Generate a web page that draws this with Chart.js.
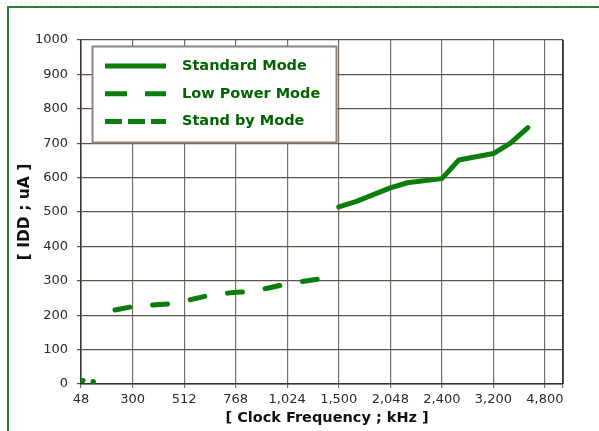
<!DOCTYPE html>
<html>
<head>
<meta charset="utf-8">
<script src="https://cdn.jsdelivr.net/npm/chart.js@4.4.1/dist/chart.umd.min.js"></script>
<style>
  html, body { margin: 0; padding: 0; background: #fff; }
  #wrap { width: 599px; height: 431px; position: relative; }
</style>
</head>
<body>
<div id="wrap"><canvas id="myChart" width="599" height="431"></canvas></div>
<script>
// x positions are slot indices on the evenly spaced frequency axis
const freqLabels = ['48', '300', '512', '768', '1,024', '1,500', '2,048', '2,400', '3,200', '4,800'];
const seriesNames = ['Standard Mode', 'Low Power Mode', 'Stand by Mode'];

const standardX = [5, 5.33, 6, 6.33, 7, 7.33, 8, 8.33, 8.67];
const standardY = [515, 530, 570, 585, 597, 651, 670, 700, 745];

const lowPowerX = [0.66, 1, 1.8, 2.5, 3, 3.3, 4, 4.7];
const lowPowerY = [215, 225, 234, 258, 267, 268, 291, 307];

const standbyX = [0.03, 0.3];
const standbyY = [10, 6];

const yTicks = [0, 100, 200, 300, 400, 500, 600, 700, 800, 900, 1000];

const green = '#0a7d0a';
const textGreen = '#006400';

function toPoints(xs, ys) {
    return xs.map((x, i) => ({ x: x, y: ys[i] }));
}

const legendDash = [[], [22, 18], [17, 6]];

const frameAndLegend = {
    id: 'frameAndLegend',
    beforeDraw(chart) {
        const c = chart.ctx;
        c.save();
        c.fillStyle = '#fff';
        c.fillRect(0, 0, chart.width, chart.height);
        c.strokeStyle = '#e4e4e4';
        c.setLineDash([2, 3]);
        c.lineWidth = 1;
        c.beginPath();
        c.moveTo(0, 2.5);
        c.lineTo(chart.width, 2.5);
        c.stroke();
        c.setLineDash([]);
        c.strokeStyle = '#2e7d2e';
        c.lineWidth = 2;
        c.strokeRect(8, 7, chart.width + 20, chart.height + 20);
        c.restore();
    },
    afterDatasetsDraw(chart) {
        const c = chart.ctx;
        const area = chart.chartArea;
        c.save();
        // right border of the plot
        c.strokeStyle = '#2b2420';
        c.lineWidth = 1.5;
        c.beginPath();
        c.moveTo(area.right, area.top);
        c.lineTo(area.right, area.bottom);
        c.stroke();

        // legend box
        const bx = 92.5, by = 46.5, bw = 244, bh = 96;
        c.fillStyle = '#fff';
        c.fillRect(bx, by, bw, bh);
        c.strokeStyle = '#8a837e';
        c.lineWidth = 2;
        c.strokeRect(bx, by, bw, bh);

        c.font = 'bold 14.5px "DejaVu Sans"';
        c.textBaseline = 'middle';
        c.textAlign = 'left';
        chart.data.datasets.forEach((ds, i) => {
            const y = 66 + i * 27.8;
            c.strokeStyle = green;
            c.lineWidth = 5;
            c.lineCap = 'butt';
            c.setLineDash(legendDash[i]);
            c.beginPath();
            c.moveTo(105, y);
            c.lineTo(166, y);
            c.stroke();
            c.setLineDash([]);
            c.fillStyle = textGreen;
            c.fillText(ds.label, 182, y);
        });
        c.restore();
    }
};

const ctx = document.getElementById('myChart');

const chart = new Chart(ctx, {
    type: 'line',
    data: {
        datasets: [{
            label: seriesNames[0],
            data: toPoints(standardX, standardY),
            borderColor: green,
            borderWidth: 5,
            borderCapStyle: 'round',
            borderJoinStyle: 'round',
            pointRadius: 0,
            clip: false
        }, {
            label: seriesNames[1],
            data: toPoints(lowPowerX, lowPowerY),
            borderColor: green,
            borderWidth: 5,
            borderDash: [15, 23],
            borderCapStyle: 'round',
            pointRadius: 0,
            clip: false
        }, {
            label: seriesNames[2],
            data: toPoints(standbyX, standbyY),
            borderColor: green,
            borderWidth: 5,
            borderDash: [0.5, 10],
            borderCapStyle: 'round',
            pointRadius: 0,
            clip: false
        }]
    },
    options: {
        responsive: false,
        animation: false,
        layout: {
            padding: { top: 40, right: 36, left: 0, bottom: 0 }
        },
        plugins: {
            legend: { display: false },
            tooltip: { enabled: false }
        },
        scales: {
            x: {
                type: 'linear',
                min: 0,
                max: 9.35,
                afterBuildTicks: (scale) => {
                    const ticks = freqLabels.map((l, i) => ({ value: i }));
                    ticks.push({ value: 9.35 });
                    scale.ticks = ticks;
                },
                afterFit: (scale) => { scale.height = 47; },
                ticks: {
                    autoSkip: false,
                    maxRotation: 0,
                    padding: 4,
                    color: '#2a2a2a',
                    font: { family: 'DejaVu Sans', size: 13 },
                    callback: (value) => freqLabels[value] !== undefined && Number.isInteger(value) ? freqLabels[value] : ''
                },
                grid: {
                    color: '#7a6e64',
                    lineWidth: 1.2,
                    tickLength: 4
                },
                border: { color: '#3a3029', width: 1.5 },
                title: {
                    display: true,
                    text: '  [ Clock Frequency ; kHz ]',
                    color: '#111',
                    font: { family: 'DejaVu Sans', size: 14.5, weight: 'bold' },
                    padding: { top: 0, bottom: 4 }
                }
            },
            y: {
                min: 0,
                max: 1000,
                afterBuildTicks: (scale) => {
                    scale.ticks = yTicks.map((v) => ({ value: v }));
                },
                afterFit: (scale) => { scale.width = 81; },
                ticks: {
                    padding: 9,
                    color: '#2a2a2a',
                    font: { family: 'DejaVu Sans', size: 13 },
                    callback: (value) => String(value)
                },
                grid: {
                    color: '#5f5349',
                    lineWidth: 1.2,
                    tickLength: 4
                },
                border: { color: '#3a3029', width: 1.5 },
                title: {
                    display: true,
                    text: '[ IDD ; uA ]',
                    color: '#111',
                    font: { family: 'DejaVu Sans', size: 15.5, weight: 'bold' },
                    padding: { top: 16, bottom: 0 }
                }
            }
        }
    },
    plugins: [frameAndLegend]
});
</script>
</body>
</html>
